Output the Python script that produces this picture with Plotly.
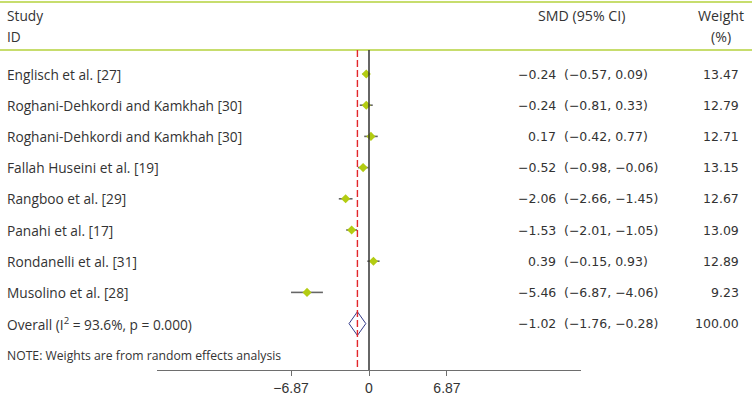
import plotly.graph_objects as go

W, H = 752, 395

studies = [
    "Englisch et al. [27]",
    "Roghani-Dehkordi and Kamkhah [30]",
    "Roghani-Dehkordi and Kamkhah [30]",
    "Fallah Huseini et al. [19]",
    "Rangboo et al. [29]",
    "Panahi et al. [17]",
    "Rondanelli et al. [31]",
    "Musolino et al. [28]",
]
smd = [-0.24, -0.24, 0.17, -0.52, -2.06, -1.53, 0.39, -5.46]
ci_low = [-0.57, -0.81, -0.42, -0.98, -2.66, -2.01, -0.15, -6.87]
ci_high = [0.09, 0.33, 0.77, -0.06, -1.45, -1.05, 0.93, -4.06]
weights = [13.47, 12.79, 12.71, 13.15, 12.67, 13.09, 12.89, 9.23]

overall_label = "Overall (I<sup>2</sup> = 93.6%, p = 0.000)"
overall_smd = -1.02
overall_low = -1.76
overall_high = -0.28
overall_weight = 100.00

tick_vals = [-6.87, 0, 6.87]
tick_text = ["−6.87", "0", "6.87"]
note = "NOTE: Weights are from random effects analysis"


def fmt(v):
    return f"{v:.2f}".replace("-", "−")


rows = list(range(len(studies)))
overall_row = len(studies)

# layout geometry (pixels)
ax_left, ax_right = 157, 581
zero_px, px_per_unit = 369, 11.35
top_px, bottom_px = 50, 370
row0_px, row_step = 74, 31.2
y_top = (top_px - row0_px) / row_step
y_bot = (bottom_px - row0_px) / row_step

TEXT = "#333333"
GREEN = "#c7dd6d"
FONT = "Open Sans"
NUMFONT = "DejaVu Sans"

fig = go.Figure()

# study estimates with CI
fig.add_trace(go.Scatter(
    x=smd, y=rows, mode="markers",
    marker=dict(symbol="diamond", size=7, color="#b3cc12"),
    error_x=dict(type="data", symmetric=False,
                 array=[h - m for h, m in zip(ci_high, smd)],
                 arrayminus=[m - l for m, l in zip(smd, ci_low)],
                 width=0, thickness=1.6, color="#666666"),
    hoverinfo="skip", showlegend=False,
))

# overall diamond
dh = 0.38
fig.add_trace(go.Scatter(
    x=[overall_low, overall_smd, overall_high, overall_smd, overall_low],
    y=[overall_row, overall_row - dh, overall_row, overall_row + dh, overall_row],
    mode="lines", line=dict(color="#333a8a", width=1),
    hoverinfo="skip", showlegend=False,
))

shapes = []
# header lines
for ypx in (2, 50):
    shapes.append(dict(type="line", xref="paper", yref="paper", x0=0, x1=1,
                       y0=1 - ypx / H, y1=1 - ypx / H,
                       line=dict(color=GREEN, width=2)))
# null line
shapes.append(dict(type="line", xref="x", yref="y", x0=0, x1=0, y0=y_top, y1=y_bot,
                   line=dict(color="#333333", width=1.5)))
# overall line
shapes.append(dict(type="line", xref="x", yref="y", x0=overall_smd, x1=overall_smd,
                   y0=y_top, y1=y_bot,
                   line=dict(color="#e3262a", width=1.4, dash="7px,3px")))

ann = []


def text(x_px, y, s, anchor="left", yref="y", size=13.7, font=FONT):
    ann.append(dict(x=x_px / W, y=y, xref="paper", yref=yref, text=s,
                    showarrow=False, xanchor=anchor, yanchor="middle",
                    font=dict(family=font, size=size, color=TEXT)))


# headers
text(5, 1 - 16 / H, "Study", yref="paper")
text(5, 1 - 36 / H, "ID", yref="paper")
text(581, 1 - 16 / H, "SMD (95% CI)", anchor="center", yref="paper", size=14.2)
text(721, 1 - 16 / H, "Weight", anchor="center", yref="paper", size=14.2)
text(721, 1 - 36 / H, "(%)", anchor="center", yref="paper", size=14.2)

for i, name in enumerate(studies):
    text(5, i, name)
    text(558, i, fmt(smd[i]), anchor="right", font=NUMFONT, size=12.5)
    text(562, i, f"({fmt(ci_low[i])}, {fmt(ci_high[i])})", font=NUMFONT, size=12.5)
    text(741, i, f"{weights[i]:.2f}", anchor="right", font=NUMFONT, size=12.5)

text(5, overall_row, overall_label)
text(558, overall_row, fmt(overall_smd), anchor="right", font=NUMFONT, size=12.5)
text(562, overall_row, f"({fmt(overall_low)}, {fmt(overall_high)})", font=NUMFONT, size=12.5)
text(741, overall_row, f"{overall_weight:.2f}", anchor="right", font=NUMFONT, size=12.5)

text(5, 1 - 355 / H, note, yref="paper", size=12.2)

fig.update_layout(
    width=W, height=H,
    margin=dict(l=0, r=0, t=0, b=0),
    paper_bgcolor="white", plot_bgcolor="white",
    shapes=shapes, annotations=ann,
    xaxis=dict(domain=[ax_left / W, ax_right / W],
               range=[(ax_left - zero_px) / px_per_unit, (ax_right - zero_px) / px_per_unit],
               showgrid=False, zeroline=False, showline=True,
               linecolor="#6e6e6e", linewidth=1,
               ticks="outside", ticklen=5, tickcolor="#6e6e6e",
               tickvals=tick_vals, ticktext=tick_text,
               tickfont=dict(family="Liberation Sans", size=14, color=TEXT)),
    yaxis=dict(domain=[1 - bottom_px / H, 1 - top_px / H],
               range=[y_bot, y_top], visible=False,
               showgrid=False, zeroline=False),
)

fig.write_html("out.html",
               config={"displayModeBar": False, "staticPlot": True},
               post_script="document.body.style.margin='0';document.body.style.overflow='hidden';")
